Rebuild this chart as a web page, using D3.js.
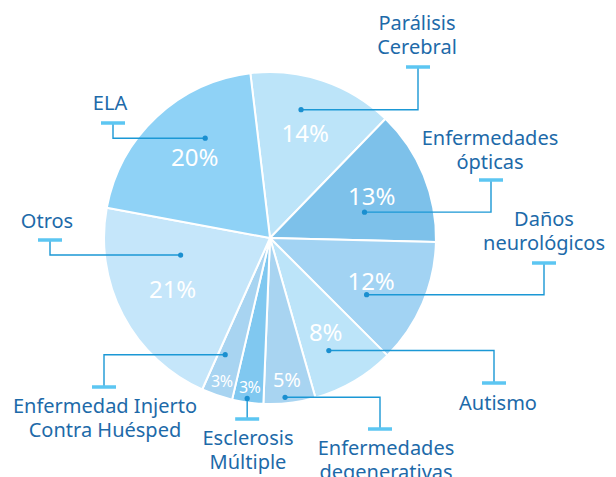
<!DOCTYPE html>
<html>
<head>
<meta charset="utf-8">
<script src="https://cdn.jsdelivr.net/npm/d3@7/dist/d3.min.js"></script>
<style>
  html, body { margin: 0; padding: 0; background: #fff; }
  svg { display: block; }
  text { font-family: "Noto Sans", "Open Sans", sans-serif; }
</style>
</head>
<body>
<svg id="chart" width="616" height="477"></svg>
<script>
// ---- data ----
const categories = ["Parálisis Cerebral", "Enfermedades ópticas", "Daños neurológicos", "Autismo",
  "Enfermedades degenerativas", "Esclerosis Múltiple", "Enfermedad Injerto Contra Huésped", "Otros", "ELA"];
const labelLines = [["Parálisis", "Cerebral"], ["Enfermedades", "ópticas"], ["Daños", "neurológicos"], ["Autismo"],
  ["Enfermedades", "degenerativas"], ["Esclerosis", "Múltiple"], ["Enfermedad Injerto", "Contra Huésped"], ["Otros"], ["ELA"]];
const values = [14, 13, 12, 8, 5, 3, 3, 21, 20];
const sliceColors = ["#bce4f9", "#7dc1ea", "#a2d3f3", "#bce4f9", "#a8d4f1", "#80c8f0", "#a8d4f1", "#c5e6fa", "#8fd2f6"];

// ---- layout (annotation placement) ----
const cx = 270, cy = 238, R = 166;
// dot: [angle deg, radius]; elbow x; bar y; label: [x, first baseline]
const leaders = [
  { dot: [13.6, 132], ex: 418, by: 67,  lx: 417, ly: 30 },
  { dot: [74.7, 98],  ex: 491, by: 180, lx: 490, ly: 145 },
  { dot: [120.4, 112],ex: 544, by: 263, lx: 544, ly: 226 },
  { dot: [152.4, 127],ex: 494, by: 383, lx: 498, ly: 410 },
  { dot: [174.6, 160],ex: 380, by: 429, lx: 386, ly: 455 },
  { dot: [188.1, 162],ex: null,by: 419, lx: 248, ly: 445 },
  { dot: [201, 125],  ex: 104, by: 387, lx: 105, ly: 413 },
  { dot: [259.2, 91], ex: 50,  by: 240, lx: 47,  ly: 228 },
  { dot: [327, 119],  ex: 113, by: 123, lx: 110, ly: 110 }
];

const svg = d3.select("#chart");
const g = svg.append("g").attr("transform", `translate(${cx},${cy})`);

const start = -6.8 * Math.PI / 180;
const pie = d3.pie().sort(null).value(d => d).startAngle(start).endAngle(start + 2 * Math.PI);
const arcs = pie(values);
const arc = d3.arc().innerRadius(0).outerRadius(R);

g.selectAll("path.slice").data(arcs).join("path")
  .attr("class", "slice")
  .attr("d", arc)
  .attr("fill", (d, i) => sliceColors[i])
  .attr("stroke", "#fff")
  .attr("stroke-width", 2)
  .attr("stroke-linejoin", "round");

// percentage labels
g.selectAll("text.pct").data(arcs).join("text")
  .attr("class", "pct")
  .attr("transform", d => {
    const a = (d.startAngle + d.endAngle) / 2;
    const r = d.value <= 3 ? 151 : (d.value <= 5 ? 143 : 110);
    const [x, y] = d3.pointRadial(a, r);
    return `translate(${x},${y})`;
  })
  .attr("text-anchor", "middle")
  .attr("dy", "0.36em")
  .attr("fill", "#fff")
  .attr("font-size", d => d.value <= 3 ? 16 : (d.value <= 5 ? 20 : 24))
  .attr("letter-spacing", d => d.value <= 3 ? -0.5 : 0)
  .text(d => d.value + "%");

// leaders
const lineCol = "#1b98d5", barCol = "#5cc6f2", txtCol = "#1d6aa9";
const lg = svg.append("g");
leaders.forEach((L, i) => {
  const [px, py] = d3.pointRadial(L.dot[0] * Math.PI / 180, L.dot[1]).map((v, k) => v + (k ? cy : cx));
  const ex = L.ex === null ? px : L.ex;
  const path = d3.path();
  path.moveTo(px, py);
  path.lineTo(ex, py);
  path.lineTo(ex, L.by);
  lg.append("path").attr("d", path.toString()).attr("fill", "none")
    .attr("stroke", lineCol).attr("stroke-width", 1.4);
  lg.append("line").attr("x1", ex - 12).attr("x2", ex + 12).attr("y1", L.by).attr("y2", L.by)
    .attr("stroke", barCol).attr("stroke-width", 3.5);
  lg.append("circle").attr("cx", px).attr("cy", py).attr("r", 2.6).attr("fill", "#1a8fd0");
  const t = lg.append("text").attr("x", L.lx).attr("y", L.ly)
    .attr("text-anchor", "middle").attr("fill", txtCol).attr("font-size", 20);
  labelLines[i].forEach((s, k) => {
    t.append("tspan").attr("x", L.lx).attr("dy", k ? 24 : 0).text(s);
  });
});
</script>
</body>
</html>
